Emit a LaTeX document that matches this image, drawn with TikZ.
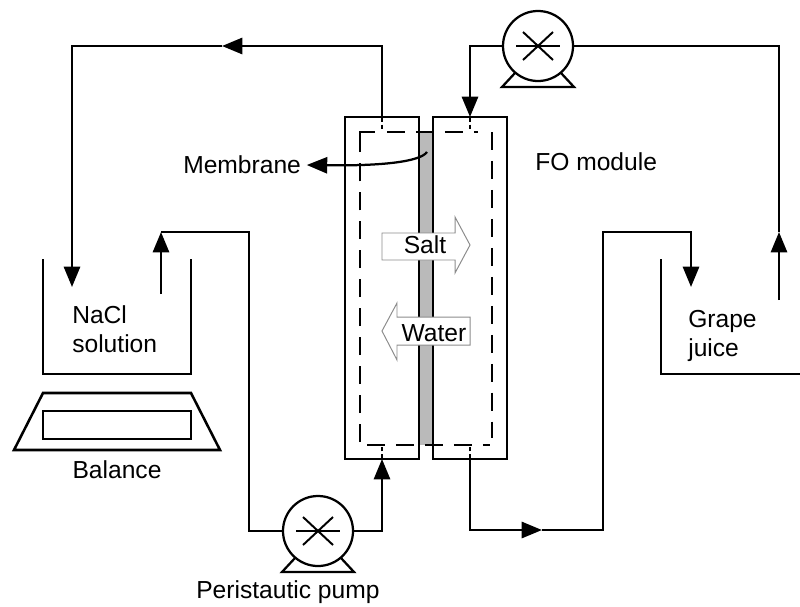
\documentclass[tikz,border=0pt]{standalone}
\usepackage{fontspec}
\setmainfont{Liberation Sans}
\usetikzlibrary{arrows.meta}

\tikzset{
    pipe/.style={line width=1.8pt, line join=miter},
    module/.style={shape=rectangle, draw=black, line width=1.7pt, minimum width=1.85cm, minimum height=8.55cm, inner sep=0pt},
    pump/.style={shape=circle, draw=black, line width=1.6pt, minimum size=1.75cm, inner sep=0pt},
    innerdash/.style={line width=1.9pt, dash pattern=on 12.8pt off 7.8pt},
    portdash/.style={line width=1.6pt, dash pattern=on 3.5pt off 2pt on 3pt off 6pt},
    flowarrow/.style={draw=black!45, line width=.7pt, fill=white, line join=miter},
    lbl/.style={font=\fontsize{17.5}{21}\selectfont, inner sep=0pt, text=black}
}

\begin{document}
\begin{tikzpicture}
            [x=.025cm, y=-.025cm, ->, >={Triangle[length=14.5pt, width=11.5pt]}]
            \useasboundingbox (0, 0) rectangle (800, 606);

            \fill[black!27] (419, 132) rectangle (433, 445);
            \node[module] (modl) at (382, 288) {};
            \node[module] (modr) at (470, 288) {};

            % dashed inner frame
            \draw[-, line width=1.9pt] (360, 152) -- (360, 132) -- (375, 132);
            \draw[-, innerdash] (360, 442) -- (360, 163);
            \draw[-, innerdash] (387, 132) -- (478, 132);
            \draw[-, innerdash] (492, 132) -- (492, 438);
            \draw[-, innerdash] (367, 445) -- (490, 445);

            \node[pump] (pumpb) at (318, 531) {};
            \node[pump] (pumpt) at (538, 46) {};
            \foreach \pumpname in {pumpb, pumpt} {
                \draw[-, line width=1.4pt] ([shift={(-22, 0)}]\pumpname.center) -- ([shift={(22, 0)}]\pumpname.center);
                \draw[-, line width=1.4pt] ([shift={(-15, -14)}]\pumpname.center) -- ([shift={(15, 14)}]\pumpname.center);
                \draw[-, line width=1.4pt] ([shift={(-15, 14)}]\pumpname.center) -- ([shift={(15, -14)}]\pumpname.center);
                \draw[-, line width=1.6pt] ([shift={(-23, 27)}]\pumpname.center) -- ([shift={(-36, 41)}]\pumpname.center)
                    -- ([shift={(36, 41)}]\pumpname.center) -- ([shift={(23, 27)}]\pumpname.center);
            }

            \coordinate (lt) at (382, 117);
            \coordinate (rt) at (470, 117);
            \coordinate (lb) at (382, 459);
            \coordinate (rb) at (470, 459);
            \coordinate (ldraw) at (222, 46);
            \coordinate (lin) at (72, 287);
            \coordinate (lout) at (161, 294);
            \coordinate (lret) at (161, 232);
            \coordinate (rmid) at (542, 530);
            \coordinate (rin) at (691, 287);
            \coordinate (rout) at (779, 300);
            \coordinate (rret) at (779, 232);

            \draw[-, portdash] (lt) -- (382, 132);
            \draw[-, portdash] (rt) -- (470, 132);
            \draw[-, portdash] (lb) -- (382, 445);
            \draw[-, portdash] (rb) -- (470, 445);

            % loop on the draw side
            \draw [pipe, ->] (lt) |- (ldraw);
            \draw [pipe, ->] (ldraw) -| (lin);
            \draw [pipe, ->] (lout) -- (lret);
            \draw [pipe, -] (lret) -| (249, 531) -- (pumpb);
            \draw [pipe, ->] (pumpb) -| (lb);

            % loop on the feed side
            \draw [pipe, ->] (rb) |- (rmid);
            \draw [pipe, ->] (rmid) -| (603, 232) -| (rin);
            \draw [pipe, ->] (rout) -- (rret);
            \draw [pipe, -] (rret) |- (pumpt);
            \draw [pipe, ->] (pumpt) -| (rt);

            % tanks and balance
            \draw[-, pipe] (43, 259) -- (43, 374) -- (191, 374) -- (191, 259);
            \draw[-, pipe] (661, 259) -- (661, 374) -- (800, 374);
            \draw[-, pipe] (43, 393) -- (191, 393) -- (220, 450) -- (14, 450) -- cycle;
            \draw[-, pipe] (43, 411) rectangle (191, 439);

            \draw[flowarrow] (382, 233) -- (455, 233) -- (455, 217) -- (470, 245) -- (455, 273) -- (455, 260) -- (382, 260) -- cycle;
            \draw[flowarrow] (470, 317) -- (397, 317) -- (397, 303) -- (382, 331) -- (397, 360) -- (397, 345) -- (470, 345) -- cycle;

            \node[lbl] (salt) at (425, 245) {Salt};
            \node[lbl] (water) at (434, 333) {Water};
            \node[lbl, anchor=west] (membrane) at (183, 165) {Membrane};
            \node[lbl, anchor=west] (fomodule) at (535, 162) {FO module};
            \node[lbl, anchor=west, align=left] (nacl) at (72, 329) {NaCl\\solution};
            \node[lbl, anchor=west, align=left] (grape) at (688, 336) {Grape\\juice};
            \node[lbl] (balance) at (117, 470) {Balance};
            \node[lbl, anchor=west] (pumplabel) at (196, 592) {Peristautic pump};

            \coordinate (mempt) at (427, 152);
            \draw [->, line width=1.6pt] (mempt) .. controls (420, 162) and (380, 166) .. ([xshift=4pt]membrane.east);
\end{tikzpicture}
\end{document}
